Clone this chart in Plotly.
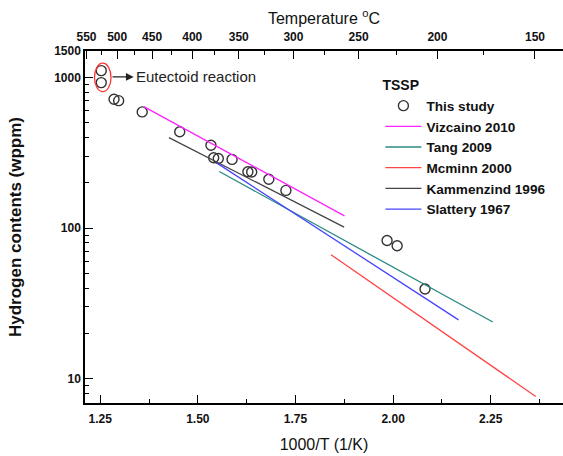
import plotly.graph_objects as go
import numpy as np

# This study (TSSP) data
study_x = [1.2526, 1.2526, 1.2853, 1.2972, 1.3575, 1.4536, 1.5335, 1.5405, 1.5523,
           1.5876, 1.6281, 1.6379, 1.6817, 1.7255, 1.9845, 2.0103, 2.0817]
study_y = [1111, 925, 718, 702, 591, 436, 355, 293, 290, 286, 237, 236, 211, 178,
           82.8, 76.3, 39.4]

# literature correlations (endpoints)
vizcaino_x = [1.3616, 1.8755]
vizcaino_y = [641, 120.7]
tang_x = [1.555, 2.2552]
tang_y = [237.5, 23.8]
mcminn_x = [1.841, 2.3652]
mcminn_y = [66.5, 7.63]
kamm_x = [1.426, 1.8745]
kamm_y = [399, 101.5]
slattery_x = [1.549, 2.1675]
slattery_y = [270, 24.6]

x_ticks = [1.25, 1.50, 1.75, 2.00, 2.25]
x_ticklabels = ["1.25", "1.50", "1.75", "2.00", "2.25"]
x_minor = [1.375, 1.625, 1.875, 2.125, 2.375]
y_ticks = [10, 100, 1000, 1500]
y_ticklabels = ["10", "100", "1000", "1500"]
temp_ticks = [550, 500, 450, 400, 350, 300, 250, 200, 150]
temp_minor = [525, 475, 425, 375, 325, 275, 225, 175]

FONT = "Liberation Sans, Arial, sans-serif"

def inv(tc):
    return [1000.0 / (t + 273.15) for t in tc]

fig = go.Figure()
fig.add_trace(go.Scatter(x=study_x, y=study_y, mode="markers", name="This study",
                         marker=dict(symbol="circle-open", size=10, color="#333333",
                                     line=dict(width=1.4, color="#333333"))))
series = [
    ("Vizcaino 2010", vizcaino_x, vizcaino_y, "#ff22ff"),
    ("Tang 2009", tang_x, tang_y, "#2a8a82"),
    ("Mcminn 2000", mcminn_x, mcminn_y, "#ff4444"),
    ("Kammenzind 1996", kamm_x, kamm_y, "#444444"),
    ("Slattery 1967", slattery_x, slattery_y, "#4444ff"),
]
for name, xs, ys, col in series:
    fig.add_trace(go.Scatter(x=xs, y=ys, mode="lines", name=name,
                             line=dict(color=col, width=1.3)))

# dummy trace for top axis
fig.add_trace(go.Scatter(x=[], y=[], xaxis="x2", showlegend=False, hoverinfo="skip"))

xr = [1.211, 2.435]
yr = [np.log10(6.9), np.log10(1500)]

fig.update_layout(
    width=563, height=456,
    margin=dict(l=85, r=0, t=51, b=53),
    paper_bgcolor="white", plot_bgcolor="white",
    font=dict(family=FONT, color="#111111"),
    showlegend=True,
    legend=dict(x=0.618, y=0.94, xanchor="left", yanchor="top",
                bgcolor="rgba(0,0,0,0)",
                title=dict(text="<b>TSSP</b>", font=dict(size=14, family=FONT)),
                font=dict(size=13.6, family=FONT, weight="bold", color="#111111"),
                tracegroupgap=0, itemwidth=36),
    xaxis=dict(range=xr, tickvals=x_ticks, ticktext=x_ticklabels,
               ticks="inside", ticklen=8, tickwidth=1.3, tickcolor="black",
               showline=True, linecolor="black", linewidth=1.5,
               showgrid=False, zeroline=False, ticklabelstandoff=4,
               tickfont=dict(size=12, family=FONT, weight="bold"),
               minor=dict(tickvals=x_minor, ticks="inside", ticklen=4,
                          tickwidth=1.2, tickcolor="black", showgrid=False),
               title=dict(text="1000/T (1/K)", font=dict(size=16, family=FONT),
                          standoff=14)),
    xaxis2=dict(range=xr, overlaying="x", side="top", anchor="y",
                tickvals=inv(temp_ticks), ticktext=[str(t) for t in temp_ticks],
                ticks="inside", ticklen=8, tickwidth=1.3, tickcolor="black",
                showline=True, linecolor="black", linewidth=1.5,
                showgrid=False, zeroline=False, ticklabelstandoff=3,
                tickfont=dict(size=12, family=FONT, weight="bold"),
                minor=dict(tickvals=inv(temp_minor), ticks="inside", ticklen=4,
                           tickwidth=1.2, tickcolor="black", showgrid=False),
                title=dict(text="Temperature <sup>o</sup>C", font=dict(size=16, family=FONT),
                           standoff=2)),
    yaxis=dict(type="log", range=yr, tickvals=y_ticks, ticktext=y_ticklabels,
               ticks="inside", ticklen=8, tickwidth=1.3, tickcolor="black",
               showline=True, linecolor="black", linewidth=1.5,
               showgrid=False, zeroline=False,
               tickfont=dict(size=12, family=FONT, weight="bold"),
               minor=dict(dtick="D1", ticks="inside", ticklen=4,
                          tickwidth=1.2, tickcolor="black", showgrid=False),
               title=dict(text="Hydrogen contents (wppm)",
                          font=dict(size=17, family=FONT, weight="bold"),
                          standoff=28)),
)

# ellipse around eutectoid points
fig.add_shape(type="circle", xref="x", yref="y",
              x0=1.2353, x1=1.2776, y0=806, y1=1245,
              line=dict(color="#ff3333", width=1.3))
# arrow
fig.add_annotation(x=1.3358, y=np.log10(1009), ax=1.2776, ay=np.log10(1009),
                   xref="x", yref="y", axref="x", ayref="y",
                   text="", showarrow=True, arrowhead=2, arrowsize=1.2,
                   arrowwidth=1.3, arrowcolor="#222222")
fig.add_annotation(x=1.3375, y=np.log10(1009), xref="x", yref="y",
                   text="Eutectoid reaction", showarrow=False,
                   xanchor="left", yanchor="middle",
                   font=dict(size=15, family=FONT, color="#222222"))

fig.write_html("out.html")
